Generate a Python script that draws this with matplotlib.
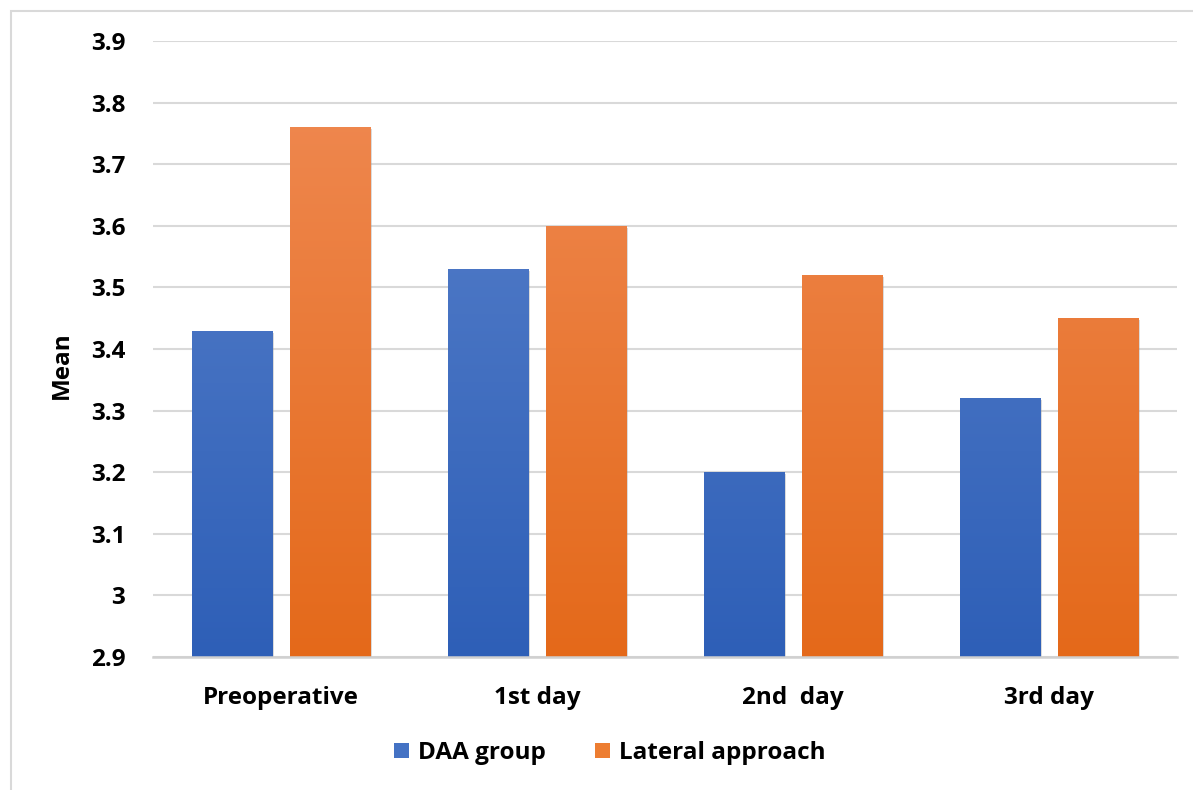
import numpy as np
import matplotlib
matplotlib.use("Agg")
import matplotlib.pyplot as plt
from matplotlib.colors import LinearSegmentedColormap
from matplotlib.patches import Rectangle, Patch
import matplotlib.patheffects as pe

categories = ["Preoperative", "1st day", "2nd  day", "3rd day"]
daa_group = [3.43, 3.53, 3.20, 3.32]
lateral_approach = [3.76, 3.60, 3.52, 3.45]
series_names = ["DAA group", "Lateral approach"]
y_ticks = [2.9, 3.0, 3.1, 3.2, 3.3, 3.4, 3.5, 3.6, 3.7, 3.8, 3.9]
y_tick_labels = ["2.9", "3", "3.1", "3.2", "3.3", "3.4", "3.5", "3.6", "3.7", "3.8", "3.9"]

plt.rcParams["font.family"] = ["Open Sans", "DejaVu Sans"]
plt.rcParams["font.weight"] = "bold"
FS = 17.5

W, H = 1193, 790
fig = plt.figure(figsize=(W / 100, H / 100), dpi=100)

# outer chart frame (left and top edges visible)
fig.add_artist(Rectangle((11 / W, -0.1), 1.5, 1.1 - 11 / H, transform=fig.transFigure,
                         fill=False, edgecolor="#d9d9d9", linewidth=1.5))

ax = fig.add_axes([153 / W, (H - 657) / H, (1177 - 153) / W, (657 - 41) / H])
ymin, ymax = 2.9, 3.9
ax.set_ylim(ymin, ymax)
ax.set_xlim(-0.5, len(categories) - 0.5)

width = 0.313
offset = 0.192
x = np.arange(len(categories))

blue_cmap = LinearSegmentedColormap.from_list("b", ["#2e5fb7", "#5b83cc"])
orange_cmap = LinearSegmentedColormap.from_list("o", ["#e4691a", "#f08b55"])


def gradient_bars(xs, vals, cmap):
    for xi, v in zip(xs, vals):
        rect = Rectangle((xi - width / 2, ymin), width, v - ymin, facecolor="none",
                         edgecolor="none", zorder=3)
        ax.add_patch(rect)
        # soft shadow behind the bar
        shadow = Rectangle((xi - width / 2, ymin), width, v - ymin, facecolor="white",
                           edgecolor="none", zorder=2.5,
                           path_effects=[pe.SimplePatchShadow(offset=(1.5, -1.5),
                                                              shadow_rgbFace="#9a9a9a", alpha=0.35)])
        ax.add_patch(shadow)
        grad = np.linspace(0, 1, 256).reshape(-1, 1)
        im = ax.imshow(grad, cmap=cmap, aspect="auto", origin="lower",
                       extent=(xi - width / 2, xi + width / 2, ymin, ymax), zorder=3,
                       interpolation="bilinear")
        im.set_clip_path(rect)


gradient_bars(x - offset, daa_group, blue_cmap)
gradient_bars(x + offset, lateral_approach, orange_cmap)
ax.set_ylim(ymin, ymax)
ax.set_xlim(-0.5, len(categories) - 0.5)

ax.set_yticks(y_ticks)
ax.set_yticklabels(y_tick_labels, fontsize=FS, fontweight="bold")
ax.set_xticks(x)
ax.set_xticklabels(categories, fontsize=FS, fontweight="bold")
ax.tick_params(axis="both", length=0)
ax.tick_params(axis="y", pad=20)
ax.tick_params(axis="x", pad=21)
ax.yaxis.grid(True, color="#d9d9d9", linewidth=1.5)
ax.set_axisbelow(True)
for s in ["top", "right", "left"]:
    ax.spines[s].set_visible(False)
ax.spines["bottom"].set_color("#d0d0d0")
ax.spines["bottom"].set_linewidth(1.8)
ax.spines["bottom"].set_zorder(4)

fig.text(62 / W, 1 - 365 / H, "Mean", rotation=90, fontsize=FS, fontweight="bold",
         ha="center", va="center")

handles = [Patch(facecolor="#4472c4"), Patch(facecolor="#ed7d31")]
fig.legend(handles, series_names, loc="center", bbox_to_anchor=(610 / W, 1 - 753 / H),
           ncol=2, frameon=False, prop={"weight": "bold", "size": FS},
           handlelength=0.6, handleheight=0.6, handletextpad=0.4, columnspacing=2.0)

fig.savefig("out.png", dpi=100)
